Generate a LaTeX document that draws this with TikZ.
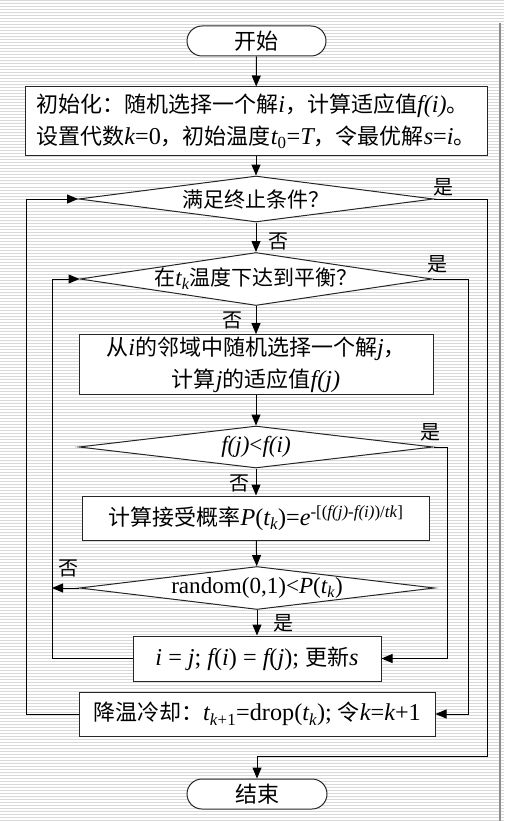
\documentclass[tikz,border=0pt]{standalone}
\usepackage{fontspec}
\setmainfont{Noto Sans CJK SC}
\newfontfamily\tnr[Scale=1.1]{Liberation Serif}
\usetikzlibrary{shapes.geometric, shapes.misc, arrows.meta}
\newcommand\ittx[1]{{\tnr\itshape #1}}
\newcommand\rmtx[1]{{\tnr #1}}
\begin{document}
\begin{tikzpicture}[x=1pt, y=-1pt,
    >={Triangle[length=11pt, width=9pt]},
    box/.style={rectangle, draw=black!85, fill=white, line width=1pt, inner sep=2pt, font=\fontsize{22}{32}\selectfont},
    term/.style={rounded rectangle, draw=black!85, fill=white, line width=1pt, inner sep=1pt, minimum width=141pt, minimum height=30pt, font=\fontsize{22}{26}\selectfont},
    test/.style={diamond, draw=black!85, fill=white, line width=1pt, inner sep=0pt, font=\fontsize{21}{26}\selectfont},
    flow/.style={->, line width=1pt},
    lbl/.style={font=\fontsize{20}{24}\selectfont},
    stripe/.style={black!15, line width=1pt}
]
    \useasboundingbox (0,0) rectangle (504,821);
    % Background
    \foreach \y in {1,4,...,821}
        \draw[stripe] (0,\y) -- (504,\y);
    \draw[black!45, line width=1.5pt] (500,23) -- (500,821);

    % Column of steps
    \node[term] (start) at (256.5,41) {开始};
    \node[box, align=left, minimum width=462pt, minimum height=69pt] (init) at (256,121.5)
        {初始化：随机选择一个解\ittx{i}，计算适应值\ittx{f(i)}。\\
         设置代数\ittx{k}\rmtx{=0}，初始温度\ittx{t}\rmtx{\textsubscript{0}=}\ittx{T}，令最优解\ittx{s}\rmtx{=}\ittx{i}。};
    \node[test, aspect=7.7, minimum width=355pt, minimum height=46pt] (stopq) at (256,199) {满足终止条件？};
    \node[test, aspect=6.6, minimum width=352pt, minimum height=53pt] (equil) at (256,279)
        {在\ittx{t\textsubscript{k}}温度下达到平衡？};
    \node[box, align=center, minimum width=354pt, minimum height=57pt] (nbr) at (256,364.5)
        {从\ittx{i}的邻域中随机选择一个解\ittx{j}，\\ 计算\ittx{j}的适应值\ittx{f(j)}};
    \node[test, aspect=8.4, minimum width=354pt, minimum height=42pt] (cmp) at (256,447)
        {\ittx{f(j)}\rmtx{<}\ittx{f(i)}};
    \node[box, minimum width=347pt, minimum height=44pt] (prob) at (256,518)
        {计算接受概率\ittx{P}\rmtx{(}\ittx{t\textsubscript{k}}\rmtx{)=}\ittx{e}\rmtx{\textsuperscript{-[(\textit{f(j)}-\textit{f(i)})/\textit{tk}]}}};
    \node[test, aspect=8, minimum width=355pt, minimum height=43pt] (accept) at (257,588)
        {\rmtx{random(0,1)<}\ittx{P}\rmtx{(}\ittx{t\textsubscript{k}}\rmtx{)}};
    \node[box, minimum width=248pt, minimum height=45pt] (upd) at (257,658.5)
        {\ittx{i}\rmtx{ = }\ittx{j}\rmtx{; }\ittx{f}\rmtx{(}\ittx{i}\rmtx{) = }\ittx{f}\rmtx{(}\ittx{j}\rmtx{); }更新\ittx{s}};
    \node[box, minimum width=356pt, minimum height=44pt] (cool) at (257,714)
        {降温冷却：\ittx{t}\rmtx{\textsubscript{\textit{k}+1}=drop(}\ittx{t\textsubscript{k}}\rmtx{); }令\ittx{k}\rmtx{=}\ittx{k}\rmtx{+1}};
    \node[term, minimum width=142pt] (stop) at (257,794) {结束};

    % Branch labels
    \node[lbl] (yes1) at (443,187) {是};
    \node[lbl] (no1) at (278,241) {否};
    \node[lbl] (yes2) at (437,264) {是};
    \node[lbl] (no2) at (232,320) {否};
    \node[lbl] (yes3) at (430,432) {是};
    \node[lbl] (no3) at (239,483) {否};
    \node[lbl] (no4) at (68,568) {否};
    \node[lbl] (yes4) at (283,623) {是};

    % Loop lines
    \coordinate (L1) at (26,0);
    \coordinate (L2) at (52,0);
    \coordinate (R1) at (487,0);
    \coordinate (R2) at (468,0);
    \coordinate (R3) at (447,0);
    \coordinate (J) at (257,756);

    % Main flow
    \draw[flow] (start) -- (init);
    \draw[flow] (init) -- (stopq);
    \draw[flow] (stopq) -- (equil);
    \draw[flow] (equil) -- (nbr);
    \draw[flow] (nbr) -- (cmp);
    \draw[flow] (cmp) -- (prob);
    \draw[flow] (prob) -- (accept);
    \draw[flow] (accept) -- (upd);

    % Side branches
    \draw[flow] (stopq.east) -| (R1 |- J) -| (stop.north);
    \draw[flow] (equil.east) -| (R2 |- cool.east) -- (cool.east);
    \draw[flow] (cmp.east) -| (R3 |- upd.east) -- (upd.east);
    \draw[flow] (accept.west) -- (accept.west -| L2);
    \draw[flow] (upd.west) -| (L2 |- equil.west) -- (equil.west);
    \draw[flow] (cool.west) -| (L1 |- stopq.west) -- (stopq.west);
\end{tikzpicture}
\end{document}
